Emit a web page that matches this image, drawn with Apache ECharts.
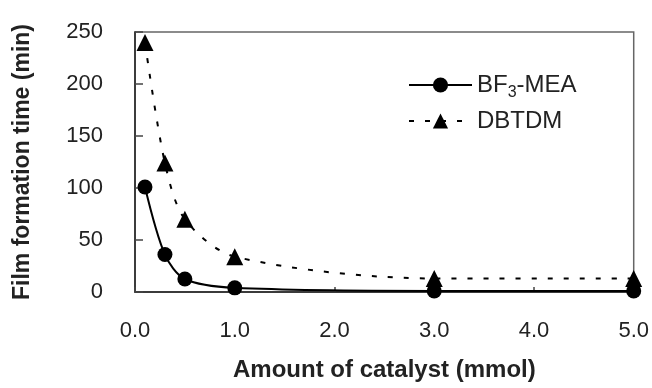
<!DOCTYPE html>
<html>
<head>
<meta charset="utf-8">
<script src="https://cdn.jsdelivr.net/npm/echarts@6/dist/echarts.min.js"></script>
<style>html,body{margin:0;padding:0;background:#fff}#c{width:652px;height:388px}</style>
</head>
<body>
<div id="c"></div>
<script>
var catalystAmount = [0.1, 0.3, 0.5, 1.0, 3.0, 5.0];
var bf3mea = [101, 36, 12.5, 4, 1, 1];
var dbtdm = [240, 124, 70, 34, 13, 13];
var xTicks = ['0.0', '1.0', '2.0', '3.0', '4.0', '5.0'];
var yTicks = [0, 50, 100, 150, 200, 250];

function pairs(xs, ys) { return xs.map(function (x, i) { return [x, ys[i]]; }); }

var font = '"Liberation Sans", Arial, sans-serif';
var chart = echarts.init(document.getElementById('c'), null, {renderer: 'canvas'});
chart.setOption({
  animation: false,
  backgroundColor: '#fff',
  grid: {left: 135, right: 13, top: 32, bottom: 96, show: true, borderColor: '#666', borderWidth: 1.5, backgroundColor: 'transparent'},
  legend: {
    orient: 'vertical', left: 403, top: 64, itemWidth: 63, itemHeight: 19, itemGap: 8,
    data: ['BF3-MEA', 'DBTDM'],
    formatter: function (n) { return n === 'BF3-MEA' ? '{n|BF}{s|3}{n|-MEA}' : '{n|' + n + '}'; },
    textStyle: {fontFamily: font, fontSize: 24, color: '#222', rich: {
      n: {fontFamily: font, fontSize: 24, color: '#222', lineHeight: 24},
      s: {fontFamily: font, fontSize: 16, color: '#222', lineHeight: 16, padding: [16, 0, 0, 0]}
    }}
  },
  xAxis: {
    type: 'value', min: 0, max: 5, interval: 1,
    name: 'Amount of catalyst (mmol)', nameLocation: 'middle', nameGap: 66,
    nameTextStyle: {fontFamily: font, fontSize: 24, fontWeight: 'bold', color: '#222'},
    axisLine: {show: true, onZero: false, lineStyle: {color: '#222', width: 1.5}},
    axisTick: {show: true, inside: true, length: 5, lineStyle: {color: '#444', width: 1.5}},
    axisLabel: {fontFamily: font, fontSize: 22, color: '#222', margin: 28,
      formatter: function (v) { return xTicks[Math.round(v)]; }},
    splitLine: {show: false}
  },
  yAxis: {
    type: 'value', min: 0, max: 250, interval: 50,
    name: 'Film formation time (min)', nameLocation: 'middle', nameGap: 101,
    nameTextStyle: {fontFamily: font, fontSize: 23, fontWeight: 'bold', color: '#222'},
    axisLine: {show: true, lineStyle: {color: '#222', width: 1.5}},
    axisTick: {show: true, inside: true, length: 8, lineStyle: {color: '#444', width: 1.5}},
    axisLabel: {fontFamily: font, fontSize: 22, color: '#222', margin: 32,
      formatter: function (v) { return yTicks.indexOf(v) >= 0 ? String(v) : ''; }},
    splitLine: {show: false}
  },
  series: [
    {name: 'BF3-MEA', type: 'line', data: pairs(catalystAmount, bf3mea), smooth: 0.3,
      symbol: 'circle', symbolSize: 15, itemStyle: {color: '#000'}, lineStyle: {color: '#000', width: 2}},
    {name: 'DBTDM', type: 'line', data: pairs(catalystAmount, dbtdm), smooth: 0.3,
      symbol: 'triangle', symbolSize: 17, itemStyle: {color: '#000'}, lineStyle: {color: '#000', width: 2, type: [5, 11]}}
  ]
});
</script>
</body>
</html>
